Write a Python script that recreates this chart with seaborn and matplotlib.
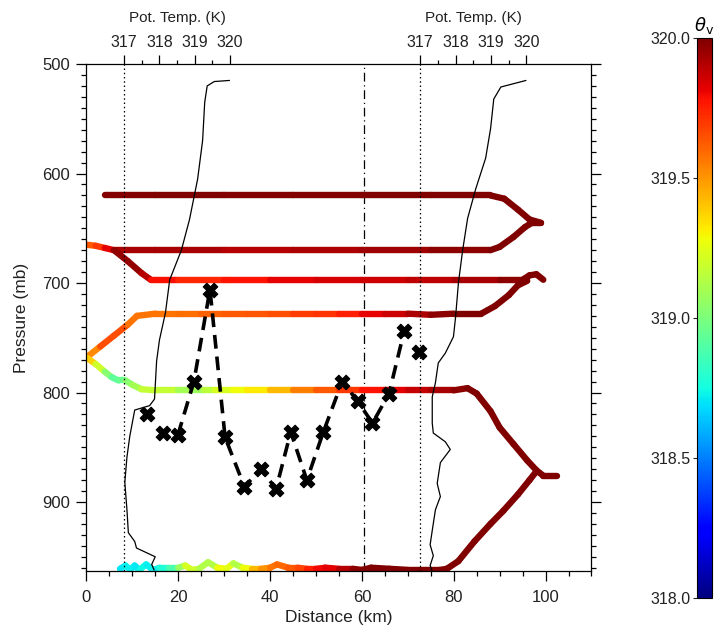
import numpy as np
import matplotlib
matplotlib.use("Agg")
import matplotlib.pyplot as plt
import matplotlib.transforms as mtransforms
from matplotlib.collections import LineCollection
from matplotlib.colors import Normalize
from matplotlib.cm import ScalarMappable
from matplotlib.ticker import MultipleLocator, FixedLocator
import seaborn as sns

# ---- flight tracks: distance (km), pressure (mb), theta_v (K) ----
trk_620_x = [4, 15, 30, 45, 60, 75, 88, 91, 94, 96.5, 99]
trk_620_p = [620, 620, 620, 620, 620, 620, 620, 623, 633, 642, 645]
trk_620_th = [319.98, 320, 320, 319.97, 320, 320, 320, 320, 320, 320, 320]

trk_670_x = [0, 2, 4, 6, 15, 30, 45, 60, 75, 88, 90, 93, 95.5, 97, 99]
trk_670_p = [665, 666, 668, 670, 670, 670, 670, 670, 670, 670, 667, 658, 649, 645, 645]
trk_670_th = [319.6, 319.65, 319.75, 319.9, 319.95, 319.9, 319.9, 319.93, 319.95, 320, 320, 320, 320, 320, 320]

trk_697_x = [6, 9, 12, 14, 20, 30, 40, 50, 60, 70, 80, 90, 95, 96.5, 98, 99.5]
trk_697_p = [670, 680, 691, 697, 697, 697, 697, 697, 697, 697, 697, 697, 697, 693, 692, 697]
trk_697_th = [319.95, 319.98, 319.95, 319.85, 319.72, 319.76, 319.8, 319.84, 319.85, 319.88, 319.9, 319.95, 320, 320, 320, 320]

trk_728_x = [0, 3, 6, 9, 11, 15, 20, 25, 30, 35, 40, 45, 50, 55, 60, 65, 70, 75, 80, 86, 89, 92, 94, 96]
trk_728_p = [768, 758, 748, 738, 730, 728, 728, 728, 728, 728, 728, 728, 728, 728, 728, 728, 728, 729, 728, 728, 721, 711, 702, 698]
trk_728_th = [319.45, 319.6, 319.7, 319.6, 319.55, 319.6, 319.55, 319.62, 319.6, 319.65, 319.62, 319.68, 319.7, 319.72,
              319.78, 319.85, 319.88, 319.95, 320, 320, 320, 320, 320, 320]

trk_798_x = [0, 2, 4, 5.5, 7, 8.5, 10, 12, 15, 20, 23, 25.5, 28, 32, 35, 40, 45, 50, 55, 60, 65, 70, 75, 80,
             83, 85, 88, 90, 93, 96, 98, 99.5, 102.5]
trk_798_p = [768, 774, 781, 786, 789, 789, 793, 797, 798, 798, 798, 798, 798, 798, 798, 798, 798, 798, 798, 798,
             798, 798, 798, 798, 796, 801, 817, 832, 847, 862, 871, 876, 876]
trk_798_th = [319.45, 319.3, 319.1, 318.95, 318.9, 319.0, 319.05, 319.15, 319.2, 319.15, 319.05, 319.1, 319.2,
              319.25, 319.3, 319.35, 319.5, 319.6, 319.65, 319.75, 319.8, 319.85, 319.9, 319.95, 320, 320, 320,
              320, 320, 320, 320, 320, 320]

trk_960_x = [7.3, 8.5, 9.5, 10.5, 11.5, 13, 14.5, 16, 18, 20, 21.5, 23, 24.5, 26.5, 28.5, 30.5, 32, 34, 36, 38,
             40, 41.5, 44, 46, 48, 50, 52, 55, 58, 60, 62, 66, 70, 74, 77, 78.5, 81, 84.5, 88, 90.8, 94, 96.5, 98]
trk_960_p = [961, 958, 962, 958, 962, 957, 962, 960, 960, 960, 958, 962, 961, 955, 960, 961, 956, 960, 961, 961,
             960, 957, 960, 960, 961, 961, 960, 961, 961, 962, 960, 961, 962, 962, 962, 961, 954, 936, 920, 908,
             893, 880, 872]
trk_960_th = [318.72, 318.7, 318.75, 318.7, 318.72, 318.75, 318.7, 318.75, 318.8, 318.95, 319.2, 319.25, 319.15,
              319.1, 319.15, 319.4, 319.1, 319.15, 319.4, 319.45, 319.55, 319.6, 319.6, 319.65, 319.7, 319.8,
              319.8, 319.85, 319.95, 320, 320, 320, 320, 320, 320, 320, 320, 320, 320, 320, 320, 320, 320]

# ---- dropsonde markers; the dashed line joins the 3rd to the 17th ----
mark_x = [13.1, 16.7, 19.9, 23.4, 26.9, 30.2, 34.4, 38.0, 41.3, 44.5, 48.0, 51.6, 55.7, 59.1, 62.3, 65.9, 69.2, 72.5]
mark_p = [820, 837, 839, 790, 706, 841, 886, 870, 888, 836, 880, 836, 790, 808, 828, 801, 744, 763]
dash_x = mark_x[2:17]
dash_p = mark_p[2:17]

# ---- potential temperature soundings ----
snd_left_th = [319.98, 319.55, 319.35, 319.28, 319.22, 319.08, 318.85, 318.62, 318.29, 318.17, 318.0, 317.92,
               317.86, 317.72, 317.30, 317.16, 317.08, 317.02, 317.08, 317.12, 317.30, 317.35, 317.88, 317.78,
               317.85]
snd_left_p = [515, 516, 520, 535, 570, 605, 642, 670, 697, 727, 752, 771, 806, 812, 816, 840, 859, 882, 907,
              928, 936, 942, 950, 957, 962]
snd_right_th = [319.99, 319.28, 319.08, 318.99, 318.85, 318.57, 318.34, 318.20, 318.08, 318.00, 317.94, 317.71,
                317.51, 317.43, 317.34, 317.34, 317.37, 317.71, 317.85, 317.57, 317.48, 317.57, 317.43, 317.34,
                317.28, 317.37, 317.28, 317.34]
snd_right_p = [515, 521, 532, 559, 586, 614, 641, 670, 700, 731, 749, 764, 773, 791, 804, 828, 837, 845, 852,
               864, 883, 895, 907, 926, 939, 949, 958, 963]

theta_ticks = [317, 318, 319, 320]
cbar_ticks = [318.0, 318.5, 319.0, 319.5, 320.0]

# where the two sounding axes sit on the distance axis
KM_PER_K = 7.7
LEFT_ORIGIN_KM = 8.2
RIGHT_ORIGIN_KM = 72.7
SECTION_KM = 60.5

sns.set_theme(style="ticks")
plt.rcParams['font.family'] = ['Liberation Sans', 'DejaVu Sans']
plt.rcParams['mathtext.fontset'] = 'dejavusans'
TXT = '#222222'

norm = Normalize(vmin=318, vmax=320)


def draw_track(ax, x, p, th):
    pts = np.column_stack([x, p])
    segs = np.stack([pts[:-1], pts[1:]], axis=1)
    th = np.asarray(th)
    lc = LineCollection(segs, cmap='jet', norm=norm, linewidths=4.6,
                        capstyle='round', joinstyle='round', zorder=2)
    lc.set_array((th[:-1] + th[1:]) / 2)
    ax.add_collection(lc)


def add_theta_axis(ax, origin_km, th, p):
    tw = ax.twiny()
    sns.lineplot(x=th, y=p, ax=tw, sort=False, estimator=None, color='black', linewidth=0.9)
    tw.axvline(317, color='black', linestyle=(0, (1.2, 2.2)), linewidth=0.9)
    x0, x1 = ax.get_xlim()
    tw.set_xlim(317 + (x0 - origin_km) / KM_PER_K, 317 + (x1 - origin_km) / KM_PER_K)
    tw.set_xticks(theta_ticks)
    tw.xaxis.set_minor_locator(FixedLocator([317.5, 318.5, 319.5]))
    tw.tick_params(axis='x', which='major', direction='out', length=6.5, width=0.9,
                   pad=3.5, labelsize=11.5, color='black', labelcolor=TXT)
    tw.tick_params(axis='x', which='minor', direction='out', length=3, width=0.9, color='black')
    tw.set_xlabel('')
    tw.set_ylabel('')
    for s in tw.spines.values():
        s.set_visible(False)
    trans = mtransforms.blended_transform_factory(tw.transData, tw.transAxes)
    tw.text(318.5, 1.09, 'Pot. Temp. (K)', transform=trans, ha='center', va='center',
            fontsize=11, color=TXT)
    return tw


fig = plt.figure(figsize=(7.14, 6.32), dpi=100)
ax = fig.add_axes([0.1211, 0.0965, 0.7073, 0.8022])

for x, p, th in [(trk_620_x, trk_620_p, trk_620_th),
                 (trk_670_x, trk_670_p, trk_670_th),
                 (trk_697_x, trk_697_p, trk_697_th),
                 (trk_728_x, trk_728_p, trk_728_th),
                 (trk_798_x, trk_798_p, trk_798_th),
                 (trk_960_x, trk_960_p, trk_960_th)]:
    draw_track(ax, x, p, th)

sns.lineplot(x=dash_x, y=dash_p, ax=ax, sort=False, estimator=None, color='black',
             linewidth=2.6, linestyle=(0, (3.8, 2.2)), zorder=3)
sns.scatterplot(x=mark_x, y=mark_p, ax=ax, color='black', marker='X', s=110,
                edgecolor='black', linewidth=0.8, zorder=4)

ax.axvline(SECTION_KM, color='black', linestyle=(0, (7, 3, 1, 3)), linewidth=0.9, zorder=1)

ax.set_xlim(0, 110)
ax.set_ylim(963, 500)
ax.xaxis.set_major_locator(MultipleLocator(20))
ax.xaxis.set_minor_locator(MultipleLocator(5))
ax.yaxis.set_major_locator(MultipleLocator(100))
ax.yaxis.set_minor_locator(MultipleLocator(10))
ax.tick_params(axis='both', which='major', direction='out', length=7, width=0.9,
               labelsize=12, color='black', labelcolor=TXT)
ax.tick_params(axis='both', which='minor', direction='out', length=3.5, width=0.9, color='black')
ax.tick_params(axis='y', which='both', left=True, right=True, labelright=False, pad=5)
ax.tick_params(axis='x', which='both', top=False, pad=7)
for s in ax.spines.values():
    s.set_color('black')
    s.set_linewidth(0.9)
ax.set_xlabel('Distance (km)', fontsize=12.5, color=TXT, labelpad=3)
ax.set_ylabel('Pressure (mb)', fontsize=12.5, color=TXT, labelpad=9)

add_theta_axis(ax, LEFT_ORIGIN_KM, snd_left_th, snd_left_p)
add_theta_axis(ax, RIGHT_ORIGIN_KM, snd_right_th, snd_right_p)
ax.tick_params(axis='x', which='both', top=False)

# colour bar
cax = fig.add_axes([0.9762, 0.0538, 0.021, 0.886])
cb = fig.colorbar(ScalarMappable(norm=norm, cmap='jet'), cax=cax)
cb.set_ticks(cbar_ticks)
cb.set_ticklabels([f'{t:.1f}' for t in cbar_ticks])
cax.yaxis.set_ticks_position('left')
cax.yaxis.set_label_position('left')
cax.tick_params(axis='y', length=3, width=0.8, pad=1.5, labelsize=11.5, labelcolor=TXT, direction='out')
cb.outline.set_linewidth(0.8)
cb.outline.set_edgecolor('black')
cax.text(0.5, 1.004, r'$\theta_{\mathrm{v}}$', transform=cax.transAxes, ha='center', va='bottom',
         fontsize=13, color='black')

fig.savefig('out.png', dpi=100)
